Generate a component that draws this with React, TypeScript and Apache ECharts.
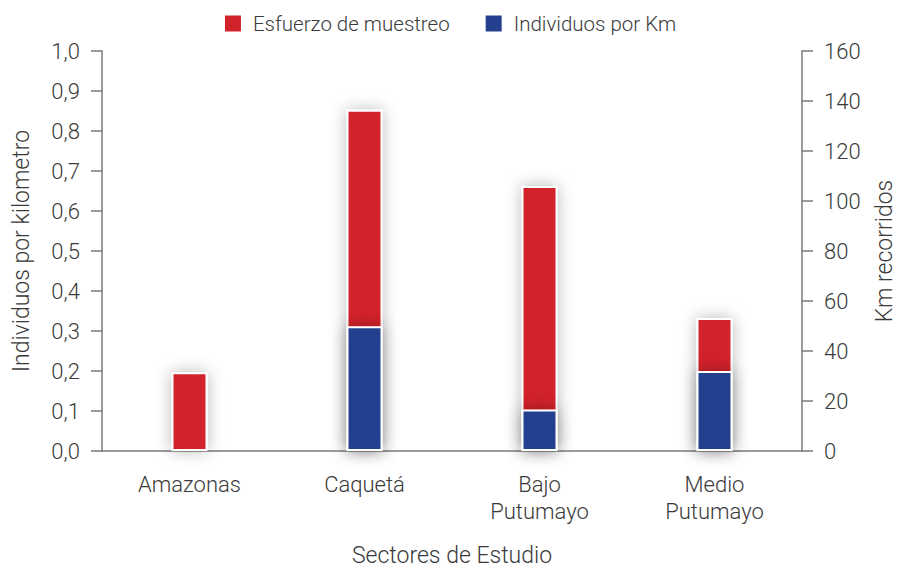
import React, { useEffect, useRef } from "react";
import * as echarts from "echarts";

const categories = ["Amazonas", "Caquetá", "Bajo\nPutumayo", "Medio\nPutumayo"];
const kmRecorridos = [31.5, 136.5, 106, 53.2];
const individuosPorKm = [null, 0.312, 0.104, 0.2];
const leftTicks = { min: 0, max: 1, interval: 0.1 };
const rightTicks = { min: 0, max: 160, interval: 20 };
const seriesNames = ["Esfuerzo de muestreo", "Individuos por Km"];

const FONT = "Roboto, 'Liberation Sans', Arial, sans-serif";
const TEXT = "#3a3a3a";
const AXIS = "#7a7a7a";

export default function App() {
  const ref = useRef<HTMLDivElement>(null);
  useEffect(() => {
    if (!ref.current) return;
    const chart = echarts.init(ref.current, null, { renderer: "svg" });
    const nameStyle = { color: TEXT, fontSize: 23, fontFamily: FONT, fontWeight: 300 };
    const labelStyle = { color: TEXT, fontSize: 22, fontFamily: FONT, fontWeight: 300 };
    const axisCommon = {
      axisLine: { show: true, lineStyle: { color: AXIS, width: 1.5 } },
      axisTick: { show: true, length: 11, lineStyle: { color: AXIS, width: 1.5 } },
      splitLine: { show: false },
      nameLocation: "middle" as const,
      nameTextStyle: nameStyle,
    };
    chart.setOption({
      animation: false,
      textStyle: { fontFamily: FONT },
      legend: {
        top: 8,
        left: "center",
        itemWidth: 18,
        itemHeight: 18,
        itemGap: 34,
        icon: "rect",
        textStyle: { color: TEXT, fontSize: 20.5, fontFamily: FONT, fontWeight: 300, padding: [0, 0, 0, 6] },
        data: seriesNames,
      },
      grid: { left: 102, right: 97, top: 51, bottom: 118, containLabel: false, outerBoundsMode: "none" },
      xAxis: {
        type: "category",
        data: categories,
        name: "Sectores de Estudio",
        nameLocation: "middle",
        nameGap: 93,
        nameTextStyle: nameStyle,
        axisLine: { show: true, lineStyle: { color: AXIS, width: 1.5 } },
        axisTick: { show: false },
        axisLabel: {
          ...labelStyle,
          margin: 20,
          lineHeight: 27,
          interval: 0,
        },
      },
      yAxis: [
        {
          type: "value",
          position: "left",
          ...leftTicks,
          name: "Individuos por kilometro",
          nameGap: 69,
          ...axisCommon,
          axisLabel: {
            ...labelStyle,
            margin: 22,
            formatter: (v: number) => v.toFixed(1).replace(".", ","),
          },
        },
        {
          type: "value",
          position: "right",
          ...rightTicks,
          name: "Km recorridos",
          nameGap: 71,
          ...axisCommon,
          axisLabel: {
            ...labelStyle,
            margin: 22,
          },
        },
      ],
      series: [
        {
          name: seriesNames[0],
          type: "bar",
          yAxisIndex: 1,
          data: kmRecorridos,
          barWidth: 36,
          barGap: "-100%",
          itemStyle: {
            color: "#d2232a",
            borderColor: "#ffffff",
            borderWidth: 2,
            shadowBlur: 16,
            shadowColor: "rgba(0,0,0,0.28)",
          },
        },
        {
          name: seriesNames[1],
          type: "bar",
          yAxisIndex: 0,
          data: individuosPorKm,
          barWidth: 36,
          barGap: "-100%",
          itemStyle: {
            color: "#24408e",
            borderColor: "#ffffff",
            borderWidth: 2,
            shadowBlur: 16,
            shadowColor: "rgba(0,0,0,0.32)",
          },
        },
      ],
    });
    return () => chart.dispose();
  }, []);
  return <div ref={ref} style={{ width: 899, height: 569, position: "fixed", left: 0, top: 0, background: "#fff" }} />;
}
